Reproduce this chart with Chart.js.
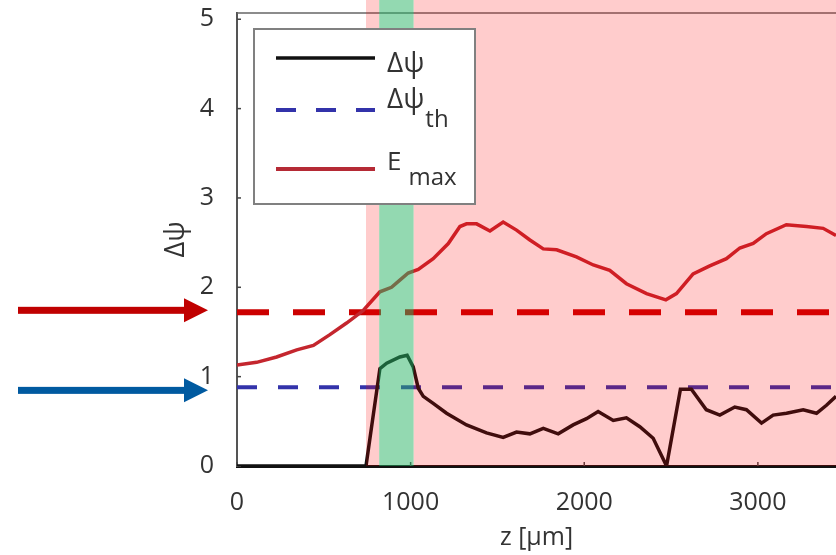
<!DOCTYPE html>
<html>
<head>
<meta charset="utf-8">
<script src="https://cdn.jsdelivr.net/npm/chart.js@4.4.1/dist/chart.umd.min.js"></script>
<style>
    html, body { margin: 0; padding: 0; background: #fff; }
    #wrap { width: 836px; height: 555px; }
</style>
</head>
<body>
<div id="wrap"><canvas id="myChart" width="836" height="555"></canvas></div>
<script>
// z positions [um] and values
const zPsi = [0, 743, 823, 862, 938, 980, 1015, 1044, 1073, 1130, 1207, 1322, 1437, 1533, 1610, 1687, 1764, 1850, 1936, 2013,
    2080, 2167, 2243, 2320, 2397, 2474, 2554, 2617, 2703, 2781, 2867, 2934, 3021, 3088, 3165, 3261, 3338, 3395, 3450];
const deltaPsi = [0, 0, 1.09, 1.15, 1.22, 1.24, 1.11, 0.87, 0.78, 0.70, 0.59, 0.46, 0.37, 0.32, 0.38, 0.36, 0.42, 0.36, 0.46, 0.53,
    0.61, 0.51, 0.54, 0.44, 0.31, 0, 0.86, 0.86, 0.63, 0.57, 0.66, 0.63, 0.48, 0.57, 0.59, 0.63, 0.59, 0.68, 0.78];

const zEmax = [0, 113, 228, 344, 440, 535, 631, 727, 823, 890, 938, 986, 1044, 1130, 1217, 1284, 1322, 1380, 1457, 1533,
    1610, 1687, 1764, 1841, 1955, 2052, 2147, 2243, 2359, 2470, 2531, 2627, 2723, 2819, 2896, 2973, 3049, 3164, 3280, 3376, 3450];
const eMax = [1.13, 1.16, 1.22, 1.30, 1.35, 1.47, 1.60, 1.74, 1.95, 2.00, 2.08, 2.16, 2.20, 2.32, 2.49, 2.68, 2.71, 2.71, 2.63, 2.73,
    2.64, 2.53, 2.43, 2.42, 2.34, 2.25, 2.19, 2.04, 1.93, 1.86, 1.93, 2.15, 2.24, 2.32, 2.44, 2.49, 2.60, 2.70, 2.68, 2.66, 2.58];

const psiThreshold = 0.88;   // Δψ_th
const emaxThreshold = 1.72;  // red dashed level

// shaded z ranges
const pinkRanges = [[743, 819], [1017, 3450]];
const greenRanges = [[819, 1017]];

const xTicks = [0, 1000, 2000, 3000];
const yTicks = [0, 1, 2, 3, 4, 5];
const X_MAX = 3450;
const Y_MAX = 5.07;

const FONT = "'Open Sans', 'DejaVu Sans', sans-serif";

function pairs(xs, ys) {
    return xs.map((x, i) => ({ x: x, y: ys[i] }));
}

function drawArrow(ctx, x0, x1, y, color) {
    ctx.fillStyle = color;
    ctx.fillRect(x0, y - 3.5, x1 - 23 - x0, 7);
    ctx.beginPath();
    ctx.moveTo(x1 - 24, y - 12);
    ctx.lineTo(x1, y);
    ctx.lineTo(x1 - 24, y + 12);
    ctx.closePath();
    ctx.fill();
}

const overlayPlugin = {
    id: 'overlay',
    beforeDatasetsDraw(chart) {
        const { ctx, chartArea } = chart;
        const x = chart.scales.x, y = chart.scales.y;
        ctx.save();
        // top frame
        ctx.strokeStyle = '#666';
        ctx.lineWidth = 1.5;
        ctx.beginPath();
        ctx.moveTo(chartArea.left, chartArea.top);
        ctx.lineTo(chartArea.right, chartArea.top);
        ctx.stroke();
        // small inward tick marks
        ctx.strokeStyle = '#444';
        ctx.lineWidth = 1.5;
        yTicks.forEach(v => {
            const py = y.getPixelForValue(v);
            ctx.beginPath(); ctx.moveTo(chartArea.left, py); ctx.lineTo(chartArea.left + 4, py); ctx.stroke();
        });
        xTicks.forEach(v => {
            const px = x.getPixelForValue(v);
            ctx.beginPath(); ctx.moveTo(px, chartArea.bottom); ctx.lineTo(px, chartArea.bottom - 4); ctx.stroke();
        });
        ctx.restore();
    },
    afterDatasetsDraw(chart) {
        const { ctx, chartArea } = chart;
        const x = chart.scales.x;
        const fillBand = (ranges, color) => {
            ranges.forEach(([a, b]) => {
                const x0 = x.getPixelForValue(a);
                const x1 = x.getPixelForValue(b);
                ctx.fillStyle = color;
                ctx.fillRect(x0, 0, x1 - x0, chartArea.bottom);
            });
        };
        ctx.save();
        fillBand(pinkRanges, 'rgba(255,0,0,0.2)');
        fillBand(greenRanges, 'rgba(40,180,100,0.5)');
        ctx.restore();
    },
    afterDraw(chart) {
        const { ctx, chartArea } = chart;
        const y = chart.scales.y;
        ctx.save();

        // legend box
        const lx = chartArea.left + 17, ly = 29, lw = 221, lh = 175;
        ctx.fillStyle = '#fff';
        ctx.fillRect(lx, ly, lw, lh);
        ctx.strokeStyle = '#808080';
        ctx.lineWidth = 2;
        ctx.strokeRect(lx, ly, lw, lh);

        const sx0 = lx + 22, sx1 = lx + 121, tx = lx + 133;
        const rows = [
            { y: ly + 29, color: '#111', width: 3.5, dash: [] },
            { y: ly + 81, color: '#3333aa', width: 4, dash: [20, 20] },
            { y: ly + 140, color: '#b52a35', width: 4, dash: [] }
        ];
        rows.forEach(r => {
            ctx.strokeStyle = r.color;
            ctx.lineWidth = r.width;
            ctx.setLineDash(r.dash);
            ctx.beginPath();
            ctx.moveTo(sx0, r.y);
            ctx.lineTo(sx1, r.y);
            ctx.stroke();
        });
        ctx.setLineDash([]);
        ctx.fillStyle = '#333';
        ctx.textBaseline = 'alphabetic';
        ctx.textAlign = 'left';
        ctx.font = '28px ' + FONT;
        ctx.fillText('Δψ', tx, ly + 43);
        ctx.fillText('Δψ', tx, ly + 79);
        const wPsi = ctx.measureText('Δψ').width;
        ctx.font = '26px ' + FONT;
        ctx.fillText('E', tx, ly + 141);
        const wE = ctx.measureText('E').width;
        ctx.font = '24px ' + FONT;
        ctx.fillText('th', tx + wPsi + 1, ly + 98);
        ctx.fillText('max', tx + wE + 7, ly + 156);

        // arrows pointing at the two threshold levels
        drawArrow(ctx, 18, 208, y.getPixelForValue(emaxThreshold) - 2, '#c00000');
        drawArrow(ctx, 18, 208, y.getPixelForValue(psiThreshold) + 3, '#005aa0');
        ctx.restore();
    }
};

Chart.defaults.font.family = FONT;
Chart.defaults.color = '#333';

const ctx = document.getElementById('myChart').getContext('2d');
const myChart = new Chart(ctx, {
    type: 'line',
    data: {
        datasets: [
            {
                label: 'Δψ',
                data: pairs(zPsi, deltaPsi),
                borderColor: '#111',
                borderWidth: 3.5,
                pointRadius: 0,
                tension: 0
            },
            {
                label: 'Δψ_th',
                data: pairs([0, X_MAX], [psiThreshold, psiThreshold]),
                borderColor: '#3333aa',
                borderWidth: 4,
                borderDash: [20, 21],
                pointRadius: 0
            },
            {
                label: 'E_max',
                data: pairs(zEmax, eMax),
                borderColor: '#c4262e',
                borderWidth: 3.5,
                pointRadius: 0,
                tension: 0
            },
            {
                label: 'E threshold',
                data: pairs([0, X_MAX], [emaxThreshold, emaxThreshold]),
                borderColor: '#cc0000',
                borderWidth: 6,
                borderDash: [32, 24],
                pointRadius: 0
            }
        ]
    },
    options: {
        responsive: false,
        animation: false,
        devicePixelRatio: 1,
        layout: { autoPadding: false, padding: { left: 150, right: 0, top: 13, bottom: 0 } },
        plugins: {
            legend: { display: false },
            tooltip: { enabled: false }
        },
        scales: {
            x: {
                type: 'linear',
                min: 0,
                max: X_MAX,
                afterBuildTicks: s => { s.ticks = xTicks.map(v => ({ value: v })); },
                afterFit: s => { s.height = 89; s.paddingLeft = 0; s.paddingRight = 0; },
                grid: { display: false },
                border: { display: true, color: '#111', width: 3 },
                ticks: {
                    font: { size: 25 },
                    padding: 14,
                    maxRotation: 0,
                    callback: v => String(v)
                },
                title: {
                    display: true,
                    text: 'z [μm]',
                    font: { size: 25 },
                    padding: { top: 0, bottom: 2 }
                }
            },
            y: {
                min: 0,
                max: Y_MAX,
                afterBuildTicks: s => { s.ticks = yTicks.map(v => ({ value: v })); },
                afterFit: s => { s.width = 87; s.paddingTop = 0; s.paddingBottom = 0; },
                grid: { display: false },
                border: { display: true, color: '#555', width: 2 },
                ticks: {
                    font: { size: 25 },
                    padding: 15,
                    callback: v => String(v)
                },
                title: {
                    display: true,
                    text: 'Δψ',
                    font: { size: 27 },
                    padding: { top: 10, bottom: 0 }
                }
            }
        }
    },
    plugins: [overlayPlugin]
});
</script>
</body>
</html>
